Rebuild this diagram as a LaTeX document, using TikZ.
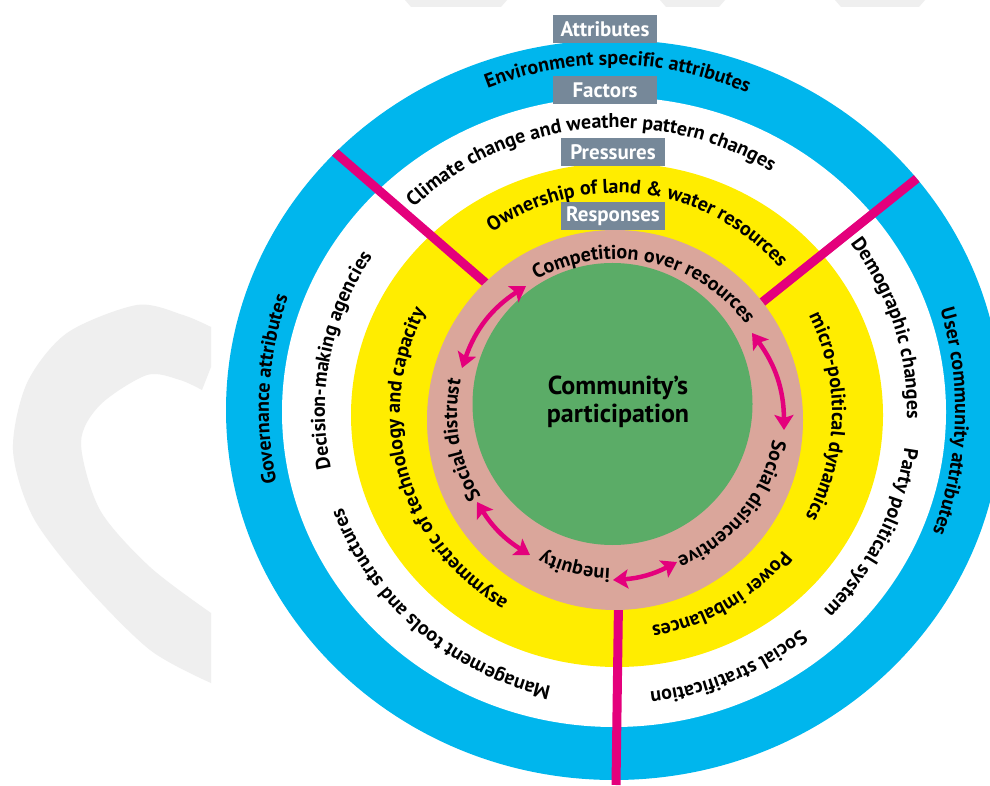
\documentclass[tikz,border=0pt]{standalone}
\usepackage{fontspec}
\setmainfont{PT Sans}
\usetikzlibrary{decorations.text,arrows.meta}
\definecolor{ringblue}{RGB}{0,182,237}
\definecolor{ringyellow}{RGB}{255,237,0}
\definecolor{ringpink}{RGB}{218,166,155}
\definecolor{coregreen}{RGB}{91,172,103}
\definecolor{divmag}{RGB}{228,0,124}
\definecolor{boxgray}{RGB}{118,136,153}
\definecolor{wmgray}{RGB}{239,239,239}
\newcommand{\ringfont}{\bfseries\fontsize{20}{20}\selectfont}
% #1 cx, #2 cy, #3 rx, #4 ry, #5 centre angle, #6 text (clockwise, tops outward)
\newcommand{\ringlabel}[6]{%
  \path[decorate,decoration={text along path,text align=center,text={|\ringfont|#6}}]
    (#1,#2) ++({#5+75}:#3pt and #4pt)
    arc[start angle={#5+75}, end angle={#5-75}, x radius=#3pt, y radius=#4pt];}
\begin{document}
\begin{tikzpicture}[x=1pt,y=1pt,
  divider/.style={draw=divmag, line width=9pt},
  arr/.style={draw=divmag, line width=4.5pt,
    {Stealth[length=15pt,width=19pt,inset=3pt]}-{Stealth[length=15pt,width=19pt,inset=3pt]}},
  graybox/.style={fill=boxgray, text=white, font=\bfseries\fontsize{21}{21}\selectfont,
    minimum width=104pt, minimum height=28pt, inner sep=0pt},
  corelabel/.style={align=center, font=\bfseries\fontsize{26}{28}\selectfont}]
\useasboundingbox (0,0) rectangle (990,785);
\clip (0,0) rectangle (990,785);
\fill[white] (0,0) rectangle (990,785);
% watermark
\fill[wmgray] (211,458) -- plot[smooth] coordinates {(211,458) (183,470) (137,480) (67,452) (27,402) (13,335) (33,268) (83,202) (150,135) (211,102)}
  -- (211,172) -- plot[smooth] coordinates {(211,172) (150,218) (100,275) (81,342) (100,380) (147,410) (180,405) (202,395)}
  -- (211,418) -- cycle;
\fill[wmgray] (405,785) -- (507,785) -- (501,778) -- (411,778) -- cycle;
\fill[wmgray] (660,785) -- (725,785) -- (719,778) -- (666,778) -- cycle;
\fill[wmgray] (835,785) -- (925,785) -- (919,778) -- (841,778) -- cycle;
% rings
\fill[ringblue] (614,375) ellipse[x radius=388pt, y radius=370pt];
\fill[white] (614,373) ellipse[x radius=332pt, y radius=315pt];
\fill[ringyellow] (617,370) ellipse[x radius=266pt, y radius=252pt];
% dividers
\coordinate (ulA) at (510,481);
\coordinate (ulB) at (300,663);
\coordinate (urA) at (735,461);
\coordinate (urB) at (955,637);
\coordinate (btA) at (619,220);
\coordinate (btB) at (616,0);
\begin{scope}
  \clip (614,375) ellipse[x radius=388pt, y radius=370pt];
  \draw[divider] (ulA) -- (ulB);
  \draw[divider] (urA) -- (urB);
\end{scope}
\draw[divider] (btA) -- (btB);
\fill[ringpink] (615,365) ellipse[x radius=188pt, y radius=190pt];
\fill[coregreen] (612.5,381) ellipse[x radius=140pt, y radius=141pt];
% arrows
\coordinate (a1s) at (526,499); \coordinate (a1e) at (462,417);
\coordinate (a2s) at (752,452); \coordinate (a2e) at (784,355);
\coordinate (a3s) at (613,205); \coordinate (a3e) at (677,223);
\coordinate (a4s) at (477,283); \coordinate (a4e) at (530,230);
\draw[arr] (a1s) to[bend right=19] (a1e);
\draw[arr] (a2s) to[bend left=18] (a2e);
\draw[arr] (a3s) to[bend right=12] (a3e);
\draw[arr] (a4s) to[bend right=13] (a4e);
% blue ring texts
\ringlabel{612}{375}{343}{345}{89}{Environment specific attributes}
\ringlabel{612}{375}{343}{345}{176.5}{Governance attributes}
\ringlabel{612}{375}{343}{345}{-2}{User community attributes}
% white ring texts
\ringlabel{616}{374}{291}{283}{96}{Climate change and weather pattern changes}
\ringlabel{616}{374}{291}{283}{169.5}{Decision-making agencies}
\ringlabel{616}{374}{291}{283}{-132}{Management tools and structures}
\ringlabel{616}{374}{291}{283}{17}{Demographic changes}
\ringlabel{616}{374}{291}{283}{-25.5}{Party political system}
\ringlabel{616}{374}{291}{283}{-66.5}{Social stratification}
% yellow ring texts
\ringlabel{616}{372}{217}{220}{83}{Ownership of land {\&} water resources}
\ringlabel{616}{372}{216}{216}{196}{asymmetric of technology and capacity}
\ringlabel{616}{372}{216}{216}{-1}{micro-political dynamics}
\ringlabel{616}{372}{216}{216}{-60}{Power imbalances}
% pink ring texts
\ringlabel{616}{371}{159}{155}{77.5}{Competition over resources}
\ringlabel{616}{371}{159}{155}{189.5}{Social distrust}
\ringlabel{616}{371}{159}{155}{-38}{Social disincentive}
\ringlabel{616}{371}{159}{155}{-105}{inequity}
% boxes
\node[graybox] (attr) at (605,756) {Attributes};
\node[graybox] (fact) at (605,694.5) {Factors};
\node[graybox] (press) at (613,633) {Pressures};
\node[graybox] (resp) at (613,568.5) {Responses};
\node[corelabel] (core) at (618,383) {Community’s\\participation};
\end{tikzpicture}
\end{document}
